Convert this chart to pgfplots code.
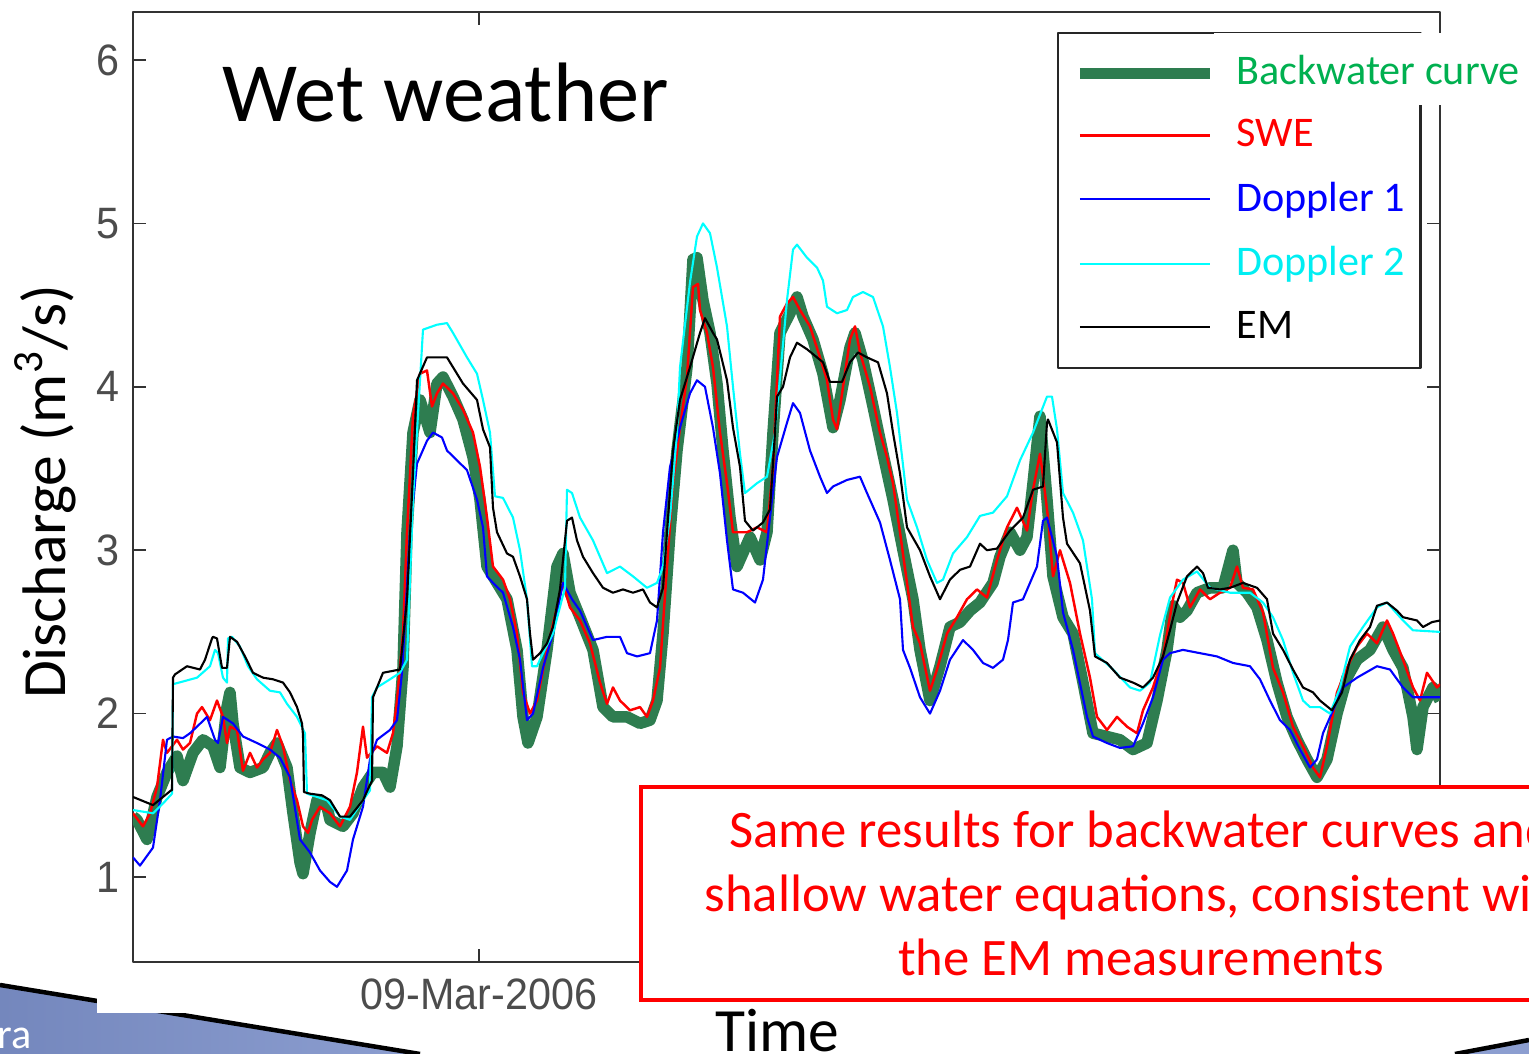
\documentclass[border=0pt]{standalone}
\usepackage{fontspec}
\setmainfont{Carlito}
\newfontfamily\arialfont{Liberation Sans}
\usepackage{pgfplots}
\pgfplotsset{compat=1.18}
\definecolor{bwgreen}{HTML}{2E7D50}
\definecolor{txtgreen}{HTML}{00B050}
\definecolor{dcyan}{HTML}{00FFFF}
\definecolor{txtcyan}{HTML}{00EEF2}
\definecolor{slideblue}{HTML}{8C9ED0}
\definecolor{slidebluedk}{HTML}{7487BD}
% legend text cell of fixed width
\newcommand\leg[2]{\makebox[16.8mm][l]{\rule[-0.8mm]{0pt}{3.4mm}\textcolor{#1}{#2}}}
\newcommand\legbw{\makebox[16.8mm][l]{\rule[-0.8mm]{0pt}{3.4mm}\hspace*{-2.3mm}\smash{\setlength{\fboxsep}{0pt}\colorbox{white}{\rule[-2.1mm]{0pt}{7.2mm}\hspace*{2.3mm}\textcolor{txtgreen}{Backwater curve}\hspace*{2mm}}}}}
\begin{document}
\begin{tikzpicture}
\useasboundingbox (0,0) rectangle (152.9mm,105.4mm);
\clip (0,0) rectangle (152.9mm,105.4mm);
\fill[white] (0,0) rectangle (152.9mm,105.4mm);
% slide background pieces
\shade[left color=slidebluedk,right color=slideblue] (0,0) -- (0,6.9mm) -- (42mm,0) -- cycle;
\draw[line width=0.45mm] (0,6.9mm) -- (42mm,0);
\node[white,anchor=base west,inner sep=0pt,font=\fontsize{12}{14}\selectfont] at (-0.3mm,0.5mm) {ra};
\fill[slideblue] (145.5mm,0) -- (152.9mm,1.4mm) -- (152.9mm,0) -- cycle;
\draw[line width=0.45mm] (145.5mm,0) -- (152.9mm,1.4mm);
\fill[white] (9.7mm,4.1mm) rectangle (152.9mm,105.4mm);

\begin{axis}[
  at={(13.3mm,9.2mm)}, anchor=south west,
  width=130.7mm, height=95mm, scale only axis,
  xmin=133, xmax=1440, ymin=0.48, ymax=6.294,
  xtick={479}, xticklabels={09-Mar-2006},
  ytick={1,2,3,4,5,6},
  tick pos=both, tick align=inside, major tick length=1.3mm,
  tick style={black!80, line width=0.5pt},
  axis line style={black!80, line width=0.7pt},
  ticklabel style={font=\arialfont\fontsize{12.5}{14}\selectfont, text=black!70, xscale=0.94},
  /pgf/number format/assume math mode=true,
  yticklabel style={inner xsep=1.4mm},
  xticklabel style={inner ysep=1.6mm},
  line join=round,
  legend image code/.code={\draw[#1] (0mm,0mm) -- (13mm,0mm);},
  legend cell align=left,
  legend style={at={(0.70696,0.97895)}, anchor=north west, draw=black!85, line width=0.6pt,
    fill=white, inner xsep=1.6mm, inner ysep=2.5mm, row sep=3.0mm,
    font=\fontsize{12}{14}\selectfont, nodes={inner sep=0pt},
    /tikz/every odd column/.append style={column sep=2.1mm}},
]
% Backwater curve
\addplot[bwgreen, line width=1.15mm] coordinates {
(133,1.37) (137,1.35) (147,1.23) (157,1.49) (167,1.64) (177,1.74) (183,1.59) (193,1.76)
(203,1.84) (213,1.80) (220,1.67) (227,2.04) (230,2.13) (233,1.94) (240,1.67) (250,1.64)
(263,1.67) (270,1.76) (277,1.82) (287,1.67) (293,1.39) (300,1.09) (303,1.02) (310,1.27)
(317,1.47) (327,1.43) (330,1.35) (343,1.31) (353,1.39) (363,1.55) (373,1.64) (383,1.64)
(390,1.55) (397,1.80) (403,2.28) (407,3.11) (413,3.72) (420,3.92) (430,3.72) (437,4.02)
(443,4.06) (453,3.94) (463,3.80) (473,3.57) (480,3.31) (487,2.90) (497,2.80) (507,2.70)
(517,2.39) (523,1.98) (528,1.82) (537,1.98) (547,2.39) (557,2.90) (563,2.98) (570,2.74)
(580,2.59) (593,2.39) (603,2.04) (613,1.98) (627,1.98) (640,1.94) (650,1.96) (657,2.08)
(663,2.49) (670,3.11) (677,3.61) (687,4.12) (693,4.78) (697,4.79) (703,4.53) (710,4.33)
(717,4.02) (723,3.61) (730,3.20) (737,2.90) (750,3.08) (760,2.94) (767,3.11) (773,3.72)
(780,4.33) (790,4.45) (797,4.55) (803,4.43) (813,4.29) (823,4.08) (833,3.75) (840,3.92)
(850,4.24) (855,4.33) (863,4.16) (873,3.88) (883,3.59) (893,3.31) (903,3.00) (913,2.70)
(920,2.39) (930,2.08) (940,2.29) (950,2.53) (960,2.56) (970,2.63) (980,2.68) (993,2.80)
(1000,2.96) (1010,3.11) (1020,3.00) (1027,3.08) (1033,3.41) (1040,3.82) (1047,3.31) (1053,2.84)
(1063,2.59) (1073,2.49) (1083,2.19) (1093,1.88) (1107,1.86) (1120,1.84) (1133,1.78) (1147,1.82)
(1157,2.08) (1167,2.39) (1173,2.66) (1180,2.59) (1187,2.63) (1197,2.74) (1210,2.77) (1223,2.77)
(1233,3.00) (1237,2.80) (1247,2.74) (1257,2.65) (1267,2.45) (1277,2.19) (1287,1.98) (1297,1.84)
(1307,1.72) (1317,1.61) (1327,1.72) (1337,2.00) (1347,2.22) (1357,2.33) (1370,2.39) (1383,2.53)
(1393,2.39) (1403,2.28) (1413,1.98) (1417,1.78) (1423,2.04) (1433,2.16) (1440,2.08)
};
\addlegendentry{\legbw}
% SWE
\addplot[red, line width=0.7pt] coordinates {
(133,1.39) (143,1.31) (150,1.39) (157,1.55) (163,1.84) (167,1.76) (177,1.84) (183,1.78)
(190,1.82) (197,2.00) (202,2.04) (210,1.96) (217,2.08) (223,1.98) (227,1.82) (230,1.92)
(237,1.90) (243,1.65) (250,1.76) (257,1.67) (263,1.72) (270,1.76) (277,1.90) (283,1.80)
(290,1.59) (297,1.47) (303,1.31) (308,1.27) (312,1.35) (320,1.43) (330,1.39) (340,1.31)
(350,1.43) (357,1.64) (363,1.92) (367,1.73) (377,1.80) (387,1.76) (393,1.88) (397,2.08)
(403,2.49) (407,3.11) (413,3.82) (420,4.08) (427,4.10) (432,3.88) (437,3.96) (443,4.02)
(453,3.96) (463,3.86) (473,3.72) (480,3.51) (487,3.20) (493,2.90) (503,2.82) (510,2.70)
(517,2.49) (523,2.13) (530,2.00) (537,2.08) (547,2.39) (557,2.65) (563,2.80) (570,2.65)
(580,2.57) (590,2.43) (600,2.19) (607,2.06) (613,2.16) (620,2.08) (630,2.02) (640,2.04)
(647,1.98) (653,2.08) (660,2.28) (667,2.90) (673,3.41) (680,3.75) (687,4.06) (693,4.61)
(698,4.63) (700,4.47) (707,4.33) (713,4.12) (720,3.72) (727,3.41) (733,3.11) (740,3.11)
(747,3.11) (757,3.14) (767,3.11) (773,3.51) (780,4.43) (787,4.51) (793,4.55) (800,4.47)
(810,4.37) (820,4.18) (827,4.04) (833,3.80) (837,3.74) (843,4.00) (850,4.29) (855,4.37)
(860,4.21) (870,4.00) (880,3.72) (887,3.57) (893,3.41) (900,3.11) (907,2.80) (913,2.53)
(920,2.43) (930,2.14) (937,2.27) (947,2.49) (957,2.59) (967,2.70) (977,2.76) (987,2.71)
(997,2.94) (1007,3.14) (1017,3.26) (1027,3.12) (1033,3.37) (1040,3.59) (1043,3.45) (1048,3.20)
(1053,2.84) (1060,3.00) (1070,2.80) (1080,2.49) (1090,2.22) (1097,1.98) (1107,1.90) (1117,1.98)
(1127,1.92) (1137,1.88) (1143,2.02) (1153,2.16) (1163,2.35) (1173,2.70) (1177,2.82) (1183,2.80)
(1190,2.65) (1200,2.76) (1210,2.70) (1220,2.74) (1230,2.77) (1237,2.90) (1243,2.77) (1253,2.76)
(1263,2.62) (1273,2.28) (1283,2.13) (1293,1.92) (1303,1.80) (1313,1.67) (1320,1.61) (1327,1.80)
(1337,2.13) (1347,2.28) (1357,2.41) (1367,2.49) (1377,2.43) (1387,2.57) (1393,2.49) (1403,2.33)
(1413,2.16) (1420,2.08) (1427,2.25) (1437,2.16) (1440,2.18)
};
\addlegendentry{\leg{red}{SWE}}
% Doppler 1
\addplot[blue, line width=0.6pt] coordinates {
(133,1.12) (140,1.07) (153,1.18) (160,1.47) (167,1.84) (173,1.86) (183,1.85) (190,1.88)
(197,1.92) (207,1.98) (215,1.84) (218,1.82) (223,1.98) (233,1.94) (243,1.86) (257,1.82)
(270,1.78) (280,1.73) (290,1.61) (300,1.23) (310,1.15) (320,1.04) (330,0.97) (337,0.94)
(347,1.04) (353,1.23) (363,1.43) (370,1.72) (377,1.84) (390,1.90) (397,1.96) (402,2.25)
(410,3.11) (417,3.53) (427,3.67) (433,3.72) (442,3.69) (447,3.61) (457,3.55) (467,3.49)
(477,3.31) (483,3.14) (487,2.84) (493,2.80) (503,2.74) (513,2.53) (520,2.33) (527,1.96)
(533,2.00) (543,2.28) (553,2.49) (563,2.80) (572,2.70) (580,2.63) (593,2.45) (607,2.47)
(620,2.47) (627,2.37) (637,2.35) (650,2.37) (657,2.57) (663,3.11) (670,3.51) (680,3.75)
(690,3.96) (697,4.04) (705,4.00) (713,3.75) (720,3.47) (727,3.06) (733,2.76) (743,2.74)
(755,2.68) (763,2.82) (770,3.20) (777,3.57) (787,3.78) (793,3.90) (800,3.84) (810,3.61)
(820,3.45) (827,3.35) (833,3.39) (847,3.43) (860,3.45) (867,3.35) (880,3.17) (890,2.94)
(900,2.70) (903,2.39) (910,2.28) (920,2.10) (930,2.00) (940,2.14) (950,2.33) (963,2.45)
(973,2.39) (983,2.31) (993,2.28) (1003,2.33) (1008,2.45) (1013,2.68) (1023,2.70) (1030,2.80)
(1037,2.90) (1043,3.18) (1047,3.20) (1057,2.96) (1063,2.62) (1073,2.39) (1087,1.98) (1093,1.86)
(1107,1.82) (1120,1.79) (1133,1.80) (1143,1.94) (1153,2.10) (1163,2.33) (1170,2.37) (1183,2.39)
(1200,2.37) (1217,2.35) (1233,2.31) (1250,2.29) (1260,2.21) (1270,2.08) (1280,1.96) (1290,1.90)
(1300,1.78) (1310,1.67) (1317,1.72) (1323,1.88) (1333,2.02) (1343,2.16) (1357,2.22) (1377,2.29)
(1390,2.27) (1403,2.16) (1413,2.10) (1427,2.10) (1440,2.10)
};
\addlegendentry{\leg{blue}{Doppler 1}}
% Doppler 2
\addplot[dcyan, line width=0.6pt] coordinates {
(133,1.41) (153,1.39) (163,1.45) (172,1.51) (173,2.18) (197,2.22) (210,2.29) (215,2.39)
(218,2.37) (223,2.22) (227,2.19) (228,2.46) (232,2.47) (240,2.41) (248,2.29) (257,2.21)
(270,2.14) (280,2.13) (287,2.06) (297,1.98) (305,1.88) (307,1.51) (317,1.49) (327,1.47)
(340,1.37) (350,1.35) (363,1.47) (370,1.53) (372,2.10) (377,2.16) (390,2.21) (400,2.25)
(407,2.33) (413,3.31) (423,4.35) (437,4.38) (447,4.39) (453,4.33) (467,4.18) (477,4.08)
(483,3.92) (490,3.72) (495,3.33) (503,3.32) (513,3.20) (520,3.00) (527,2.70) (532,2.29)
(537,2.29) (543,2.37) (553,2.49) (565,2.77) (567,3.37) (572,3.35) (580,3.20) (593,3.06)
(607,2.86) (620,2.90) (633,2.84) (647,2.77) (657,2.80) (663,2.90) (670,3.20) (677,3.72)
(680,4.12) (690,4.64) (697,4.92) (703,5.00) (710,4.94) (717,4.73) (727,4.37) (733,4.00)
(740,3.59) (745,3.35) (757,3.41) (767,3.45) (775,3.72) (787,4.53) (793,4.84) (797,4.87)
(807,4.79) (817,4.73) (823,4.65) (827,4.49) (837,4.45) (847,4.47) (853,4.55) (863,4.58)
(873,4.55) (883,4.37) (890,4.12) (897,3.84) (907,3.31) (917,3.14) (927,2.94) (937,2.80)
(943,2.82) (953,2.98) (967,3.08) (980,3.21) (993,3.23) (1007,3.33) (1020,3.55) (1033,3.72)
(1047,3.94) (1052,3.94) (1057,3.74) (1063,3.35) (1073,3.23) (1083,3.06) (1092,2.70) (1095,2.37)
(1113,2.27) (1130,2.16) (1140,2.14) (1150,2.19) (1160,2.48) (1170,2.71) (1183,2.82) (1197,2.87)
(1210,2.77) (1230,2.74) (1250,2.74) (1263,2.68) (1273,2.59) (1283,2.45) (1293,2.25) (1303,2.08)
(1310,2.04) (1320,2.04) (1330,2.00) (1340,2.16) (1350,2.41) (1363,2.53) (1377,2.65) (1387,2.68)
(1403,2.57) (1413,2.51) (1440,2.50)
};
\addlegendentry{\leg{txtcyan}{Doppler 2}}
% EM
\addplot[black, line width=0.6pt] coordinates {
(133,1.49) (153,1.44) (163,1.49) (171,1.53) (172,1.53) (173,2.22) (175,2.24) (187,2.29)
(200,2.27) (205,2.33) (212,2.46) (213,2.47) (217,2.46) (222,2.28) (227,2.28) (230,2.47)
(237,2.44) (245,2.35) (253,2.25) (263,2.22) (273,2.21) (283,2.19) (290,2.13) (297,2.04)
(302,1.94) (303,1.87) (304,1.52) (310,1.51) (322,1.50) (330,1.47) (340,1.37) (350,1.37)
(363,1.47) (372,1.59) (373,2.10) (383,2.25) (400,2.27) (407,2.70) (413,3.47) (417,4.04)
(427,4.18) (447,4.18) (453,4.12) (463,4.02) (477,3.92) (483,3.74) (490,3.63) (493,3.26)
(497,3.11) (507,2.98) (513,2.96) (520,2.84) (527,2.70) (530,2.49) (533,2.33) (540,2.37)
(547,2.43) (553,2.53) (560,2.76) (567,3.18) (572,3.20) (577,3.06) (583,2.96) (593,2.86)
(603,2.77) (613,2.74) (623,2.76) (633,2.74) (643,2.76) (650,2.68) (657,2.65) (663,2.77)
(667,3.11) (673,3.61) (680,3.92) (690,4.12) (700,4.33) (705,4.42) (713,4.33) (717,4.29)
(727,4.04) (733,3.75) (740,3.51) (743,3.31) (745,3.18) (753,3.12) (763,3.17) (770,3.25)
(775,3.72) (777,3.94) (783,4.00) (790,4.18) (797,4.27) (807,4.23) (817,4.18) (823,4.15)
(830,4.03) (842,4.03) (850,4.15) (858,4.21) (867,4.18) (878,4.15) (887,3.96) (893,3.72)
(900,3.47) (907,3.14) (920,3.00) (930,2.84) (940,2.70) (950,2.82) (960,2.88) (970,2.90)
(980,3.04) (987,3.00) (997,3.01) (1010,3.12) (1023,3.20) (1033,3.37) (1043,3.39) (1047,3.78)
(1048,3.80) (1057,3.66) (1063,3.20) (1067,3.04) (1080,2.92) (1090,2.63) (1095,2.35) (1107,2.31)
(1120,2.22) (1133,2.19) (1143,2.16) (1153,2.22) (1163,2.35) (1170,2.51) (1177,2.68) (1187,2.84)
(1197,2.90) (1203,2.86) (1208,2.77) (1220,2.76) (1230,2.77) (1243,2.80) (1257,2.77) (1267,2.70)
(1273,2.49) (1283,2.39) (1293,2.27) (1303,2.16) (1313,2.13) (1320,2.08) (1332,2.02) (1342,2.13)
(1350,2.33) (1360,2.45) (1370,2.53) (1377,2.66) (1387,2.68) (1397,2.63) (1403,2.59) (1417,2.57)
(1423,2.53) (1432,2.56) (1440,2.57)
};
\addlegendentry{\leg{black}{EM}}
\end{axis}

\node[anchor=base west,inner sep=0pt,font=\fontsize{24}{28}\selectfont] at (22.2mm,93.2mm) {Wet weather};
\node[anchor=base,rotate=90,inner sep=0pt,font=\fontsize{17.5}{20}\selectfont] at (6.5mm,56.2mm) {Discharge (m\textsuperscript{3}/s)};
\node[anchor=base west,inner sep=0pt,font=\fontsize{17.5}{20}\selectfont] at (71.5mm,0.2mm) {Time};

\draw[red, line width=0.4mm, fill=white] (64.1mm,5.4mm) rectangle (175mm,26.7mm);
\node[red, align=center, font=\fontsize{15}{18.2}\selectfont] at (114.1mm,16.1mm)
  {Same results for backwater curves and\\shallow water equations, consistent with\\the EM measurements};
\end{tikzpicture}
\end{document}
